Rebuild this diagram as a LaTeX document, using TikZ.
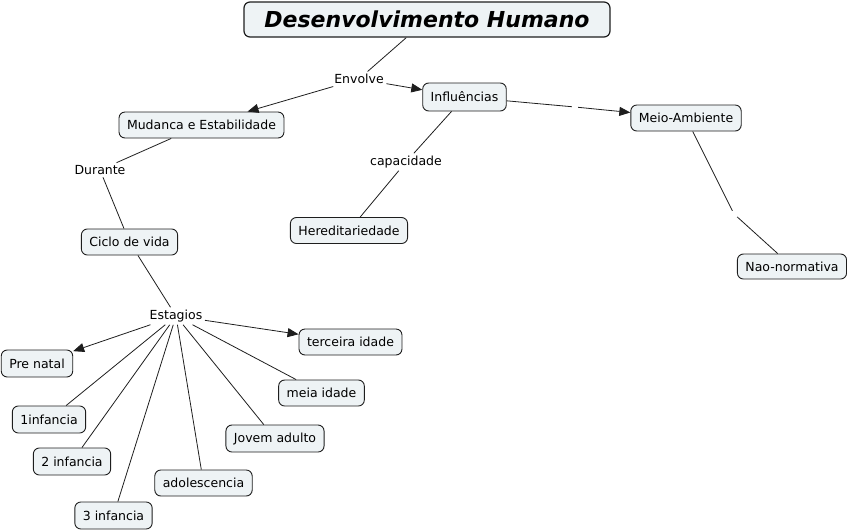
\documentclass[tikz,border=0pt]{standalone}
\usepackage{fontspec}
\setmainfont{DejaVu Sans}[
  BoldFont={DejaVu Sans Bold},
  ItalicFont={DejaVu Sans Oblique},
  BoldItalicFont={DejaVu Sans Bold Oblique}]
\usetikzlibrary{arrows.meta,positioning}
\definecolor{ink}{HTML}{000000}
\definecolor{edgecol}{HTML}{1E1E1E}
\definecolor{boxfill}{HTML}{EEF3F5}

\begin{document}
\begin{tikzpicture}[
  x=1pt, y=-1pt,
  concept/.style={
    draw=edgecol, fill=boxfill, line width=0.9pt, rounded corners=6pt,
    minimum height=26pt, inner xsep=8pt, inner ysep=2pt,
    text=ink, font=\fontsize{12.5}{14}\selectfont
  },
  phrase/.style={inner sep=2.5pt, text=ink, font=\fontsize{12.5}{14}\selectfont},
  gap/.style={inner sep=3pt, minimum size=0pt},
  link/.style={draw=edgecol, line width=0.8pt},
  flow/.style={link, -{Triangle[length=11pt,width=9pt]}}
]
\useasboundingbox (0,0) rectangle (847,531);

%% ---------- title ----------
\node[concept, line width=1.2pt, minimum width=366pt, minimum height=35pt,
      font=\fontsize{22}{26}\bfseries\itshape] (title) at (427,19.5)
  {Desenvolvimento Humano};

%% ---------- top level ----------
\node[phrase] (envolve) at (359,79) {Envolve};
\node[concept] (mudanca) at (201.5,125) {Mudanca e Estabilidade};
\node[concept, minimum height=28pt] (influ) at (464.5,97) {Influências};
\node[phrase] (capac) at (406,162) {capacidade};
\node[concept] (hered) at (349,230.5) {Hereditariedade};
\node[gap] (gapA) at (575,107) {};
\node[concept] (meio) at (686,118) {Meio-Ambiente};
\node[gap] (gapB) at (734,214) {};
\node[concept, minimum height=25pt] (nao) at (792,266.5) {Nao-normativa};

%% ---------- life cycle ----------
\node[phrase] (durante) at (100,170) {Durante};
\node[concept] (ciclo) at (129.5,242) {Ciclo de vida};
\node[phrase] (estagios) at (176,316) {Estagios};

\node[concept, minimum height=27pt] (prenatal) at (37,363.5) {Pre natal};
\node[concept, minimum height=27pt] (inf1) at (49,419.5) {1infancia};
\node[concept, minimum height=27pt] (inf2) at (72,461.5) {2 infancia};
\node[concept, minimum height=27pt] (inf3) at (113.5,515.5) {3 infancia};
\node[concept] (adol) at (203.5,483) {adolescencia};
\node[concept, minimum height=27pt] (jovem) at (275,438.5) {Jovem adulto};
\node[concept] (meia) at (321.5,393) {meia idade};
\node[concept] (terceira) at (350.5,342) {terceira idade};

%% ---------- connectors ----------
\draw[link] (title) -- (envolve);
\draw[flow] (envolve) -- (mudanca);
\draw[flow] (envolve) -- (influ);

\draw[link] (influ) -- (capac);
\draw[link] (capac) -- (hered);
\draw[link] (influ) -- (gapA);
\draw[flow] (gapA) -- (meio);
\draw[link] (meio) -- (gapB);
\draw[link] (gapB) -- (nao);

\draw[link] (mudanca) -- (durante);
\draw[link] (durante) -- (ciclo);
\draw[link] (ciclo) -- (estagios);

\draw[flow] (estagios) -- (prenatal);
\draw[flow] (estagios) -- (terceira);
\foreach \stage in {inf1,inf2,inf3,adol,jovem,meia}
  \draw[link] (estagios) -- (\stage);

\end{tikzpicture}
\end{document}
